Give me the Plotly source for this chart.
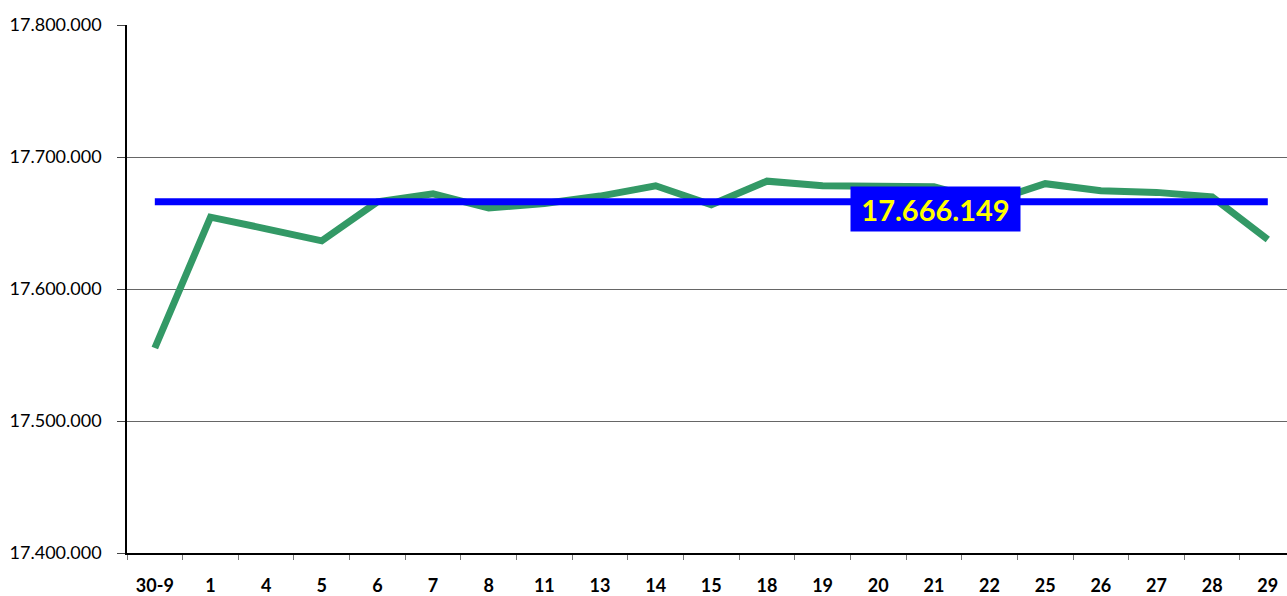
import plotly.graph_objects as go

categories = ["30-9", "1", "4", "5", "6", "7", "8", "11", "13", "14", "15",
              "18", "19", "20", "21", "22", "25", "26", "27", "28", "29"]
values = [17555300, 17654400, 17645600, 17636500, 17666000, 17672100, 17661300,
          17664800, 17670400, 17678200, 17663800, 17681700, 17678200, 17677800,
          17677400, 17666000, 17679800, 17674400, 17673200, 17669800, 17637500]
mean_value = 17666149
mean_label = f"{mean_value:,.0f}".replace(",", ".")
y_ticks = [17400000, 17500000, 17600000, 17700000, 17800000]
label_category = "21"

fig = go.Figure()
fig.add_trace(go.Scatter(
    x=categories, y=values, mode="lines",
    line=dict(color="#339966", width=7),
    showlegend=False, hoverinfo="skip",
))
fig.add_trace(go.Scatter(
    x=categories, y=[mean_value] * len(categories), mode="lines",
    line=dict(color="#0000FF", width=7),
    showlegend=False, hoverinfo="skip",
))

fig.add_annotation(
    x=categories.index(label_category), y=17660700, xref="x", yref="y", xshift=2,
    text=f"<b>{mean_label}</b>", showarrow=False,
    font=dict(family="Lato", size=29, color="#FFFF00"),
    bgcolor="#0000FF", width=161, height=36, borderpad=4,
)

fig.update_layout(
    width=1287, height=596,
    margin=dict(l=127, r=0, t=25, b=43, autoexpand=False),
    plot_bgcolor="white", paper_bgcolor="white",
    separators=",.",
    font=dict(family="Lato", color="black"),
)
fig.update_xaxes(
    type="category", range=[-0.5, 20.345], automargin=False,
    tickson="boundaries", ticks="outside", ticklen=5, tickcolor="#777777",
    tickfont=dict(family="Lato", size=18, color="black", weight="bold"),
    ticklabelstandoff=16,
    showline=True, linecolor="black", linewidth=1.5,
    showgrid=False, zeroline=False,
)
fig.update_yaxes(
    range=[17400000, 17800000], tickvals=y_ticks, tickformat=",.0f",
    automargin=False,
    ticks="outside", ticklen=8, tickcolor="#444444",
    tickfont=dict(family="Lato", size=18, color="black"),
    ticklabelstandoff=12,
    showline=True, linecolor="black", linewidth=1.5,
    showgrid=True, gridcolor="#666666", gridwidth=1, zeroline=False,
)

fig.write_html(
    "out.html",
    config={"displayModeBar": False},
    post_script="document.body.style.margin='0';document.body.style.overflow='hidden';",
)
